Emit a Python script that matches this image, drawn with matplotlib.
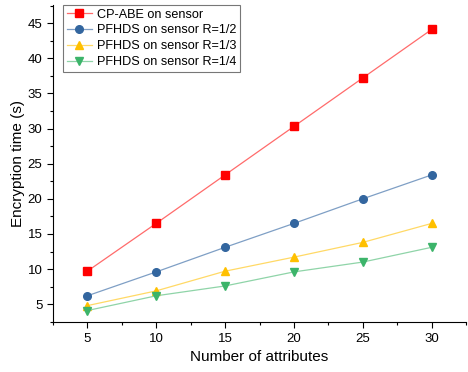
import matplotlib.pyplot as plt
from matplotlib.ticker import MultipleLocator

plt.rcParams['font.family'] = ['Liberation Sans', 'DejaVu Sans']

attributes = [5, 10, 15, 20, 25, 30]
cpabe = [9.7, 16.5, 23.4, 30.3, 37.2, 44.1]
pfhds_half = [6.2, 9.6, 13.1, 16.5, 20.0, 23.4]
pfhds_third = [4.8, 6.9, 9.7, 11.7, 13.8, 16.5]
pfhds_quarter = [4.1, 6.2, 7.6, 9.6, 11.0, 13.1]

fig = plt.figure(figsize=(4.68, 3.72), dpi=100)
ax = fig.add_axes([0.113, 0.134, 0.883, 0.853])

# 线条颜色比标记浅一些
series = [
    (cpabe, 'CP-ABE on sensor', 's', '#ff0000', '#ff6b6b'),
    (pfhds_half, 'PFHDS on sensor R=1/2', 'o', '#33669f', '#7f9fc5'),
    (pfhds_third, 'PFHDS on sensor R=1/3', '^', '#ffc000', '#ffd966'),
    (pfhds_quarter, 'PFHDS on sensor R=1/4', 'v', '#3cb46a', '#8fd4a8'),
]
for ys, lab, mk, mc, lc in series:
    ax.plot(attributes, ys, color=lc, lw=0.9, marker=mk, ms=5.5,
            markerfacecolor=mc, markeredgecolor=mc, label=lab)

ax.set_xlim(2.5, 32.5)
ax.set_ylim(2.45, 47.6)
ax.xaxis.set_major_locator(MultipleLocator(5))
ax.xaxis.set_minor_locator(MultipleLocator(2.5))
ax.yaxis.set_major_locator(MultipleLocator(5))
ax.yaxis.set_minor_locator(MultipleLocator(2.5))
ax.spines['top'].set_visible(False)
ax.spines['right'].set_visible(False)
ax.tick_params(direction='out', labelsize=9.5, length=4, width=0.8)
ax.tick_params(which='minor', length=2.5, width=0.8)

ax.set_xlabel('Number of attributes', fontsize=11)
ax.set_ylabel('Encryption time (s)', fontsize=11, labelpad=2)

leg = ax.legend(loc='upper left', bbox_to_anchor=(0.024, 1.0), fontsize=9.1,
                frameon=True, fancybox=False, edgecolor='#555555',
                borderpad=0.3, labelspacing=0.3, handlelength=2.0,
                handletextpad=0.4, borderaxespad=0)
leg.get_frame().set_linewidth(0.8)

fig.savefig('out.png', dpi=100)
